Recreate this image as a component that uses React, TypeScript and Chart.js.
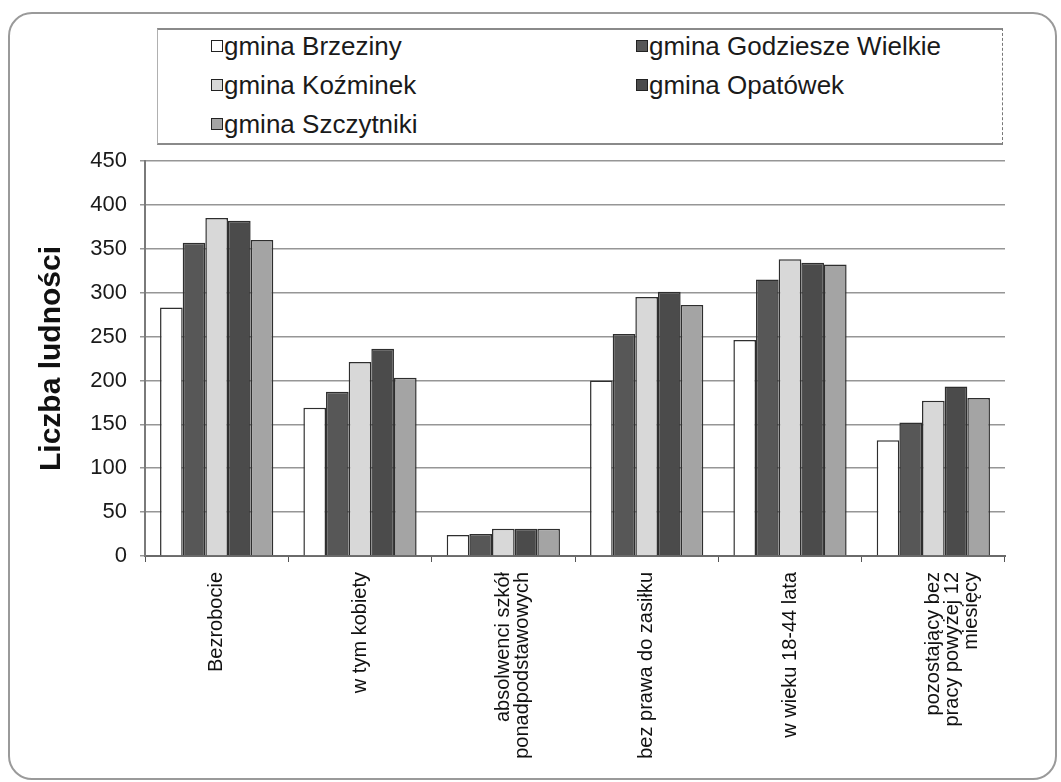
import React, { useEffect, useRef } from "react";
import { Chart, registerables } from "chart.js";

Chart.register(...registerables);

const categories: (string | string[])[] = [
  "Bezrobocie",
  "w tym kobiety",
  ["absolwenci szkół", "ponadpodstawowych"],
  "bez prawa do zasiłku",
  "w wieku 18-44 lata",
  ["pozostający bez", "pracy powyżej 12", "miesięcy"],
];

const seriesNames = [
  "gmina Brzeziny",
  "gmina Godziesze Wielkie",
  "gmina Koźminek",
  "gmina Opatówek",
  "gmina Szczytniki",
];

const brzeziny = [283, 169, 24, 200, 246, 132];
const godziesze = [357, 187, 25, 253, 315, 152];
const kozminek = [385, 221, 31, 295, 338, 177];
const opatowek = [382, 236, 31, 301, 334, 193];
const szczytniki = [360, 203, 31, 286, 332, 180];

const seriesValues = [brzeziny, godziesze, kozminek, opatowek, szczytniki];
const seriesColors = ["#ffffff", "#575757", "#d8d8d8", "#4b4b4b", "#a4a4a4"];

const yTitle = "Liczba ludności";
const yMin = 0;
const yMax = 450;
const yStep = 50;

const FONT = '"Liberation Sans", Arial, sans-serif';

export default function App() {
  const ref = useRef<HTMLCanvasElement | null>(null);

  useEffect(() => {
    if (!ref.current) return;
    const chart = new Chart(ref.current, {
      type: "bar",
      data: {
        labels: categories,
        datasets: seriesNames.map((name, i) => ({
          label: name,
          data: seriesValues[i],
          backgroundColor: seriesColors[i],
          borderColor: "#2e2e2e",
          borderWidth: 1.5,
          categoryPercentage: 0.79,
          barPercentage: 1,
        })),
      },
      options: {
        responsive: false,
        animation: false,
        devicePixelRatio: 1,
        layout: { padding: { top: 161, right: 56, left: 0, bottom: 0 } },
        plugins: {
          legend: { display: false },
          tooltip: { enabled: false },
        },
        scales: {
          x: {
            grid: {
              display: true,
              drawOnChartArea: false,
              drawTicks: true,
              tickLength: 6,
              color: "#555",
              offset: true,
            },
            border: { display: true, color: "#6a6a6a", width: 2 },
            ticks: {
              autoSkip: false,
              minRotation: 90,
              maxRotation: 90,
              padding: 10,
              color: "#111",
              font: { family: FONT, size: 20, lineHeight: 0.95 },
            },
            afterFit: (scale: any) => {
              scale.height = 226;
            },
          },
          y: {
            min: yMin,
            max: yMax,
            grid: {
              color: "#969696",
              lineWidth: 1.5,
              tickLength: 5,
            },
            border: { display: true, color: "#7a7a7a", width: 2 },
            ticks: {
              stepSize: yStep,
              padding: 13,
              color: "#1a1a1a",
              font: { family: FONT, size: 22 },
            },
            title: {
              display: true,
              text: yTitle,
              color: "#111",
              font: { family: FONT, size: 30, weight: "bold" },
              padding: { top: 34, bottom: 0 },
            },
            afterFit: (scale: any) => {
              scale.width = 145;
            },
          },
        },
      },
    });
    return () => chart.destroy();
  }, []);

  const legendPos = [
    { left: 211, top: 46 },
    { left: 636, top: 46 },
    { left: 211, top: 85 },
    { left: 636, top: 85 },
    { left: 211, top: 124 },
  ];

  return (
    <div
      style={{
        position: "fixed",
        left: 0,
        top: 0,
        width: 1061,
        height: 782,
        background: "#fff",
        overflow: "hidden",
      }}
    >
      <canvas
        ref={ref}
        width={1061}
        height={782}
        style={{ position: "absolute", left: 0, top: 0, width: 1061, height: 782 }}
      />
      <div
        style={{
          position: "absolute",
          left: 8,
          top: 12,
          width: 1045,
          height: 764,
          border: "2px solid #9a9a9a",
          borderRadius: 24,
          pointerEvents: "none",
        }}
      />
      <div
        style={{
          position: "absolute",
          left: 157,
          top: 28,
          width: 844,
          height: 113,
          borderTop: "2px solid #8a8a8a",
          borderBottom: "2px solid #8a8a8a",
          borderLeft: "1px solid #b0b0b0",
          borderRight: "1px dashed #777",
          background: "#fff",
        }}
      />
      {seriesNames.map((name, i) => (
        <div
          key={name}
          style={{
            position: "absolute",
            left: legendPos[i].left,
            top: legendPos[i].top - 16,
            height: 32,
            display: "flex",
            alignItems: "center",
            fontFamily: FONT,
            fontSize: 26,
            color: "#1a1a1a",
            whiteSpace: "nowrap",
          }}
        >
          <span
            style={{
              display: "inline-block",
              width: 10,
              height: 10,
              background: seriesColors[i],
              border: "1.5px solid #222",
              marginRight: 1,
            }}
          />
          <span>{name}</span>
        </div>
      ))}
    </div>
  );
}
